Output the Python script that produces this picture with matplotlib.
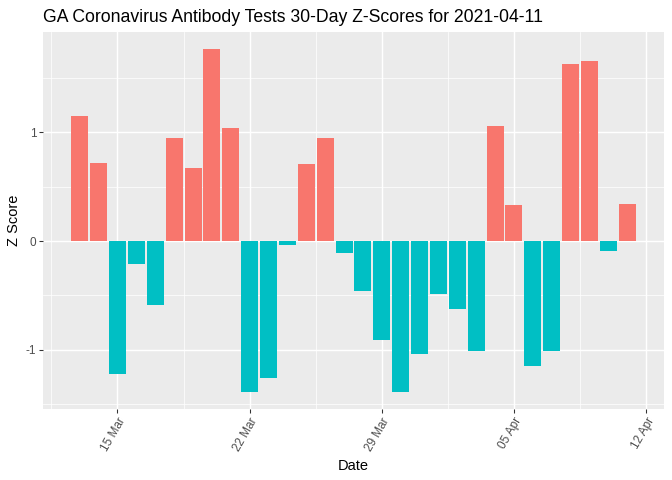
import numpy as np
import pandas as pd
import matplotlib
matplotlib.use("Agg")
import matplotlib.pyplot as plt
import matplotlib.dates as mdates
from matplotlib.ticker import MultipleLocator, FixedLocator

plt.rcParams['font.family'] = ['Liberation Sans', 'DejaVu Sans']

# 30-day window ending 2021-04-11
dates = pd.date_range("2021-03-13", "2021-04-11", freq="D")
z_scores = [1.150, 0.718, -1.221, -0.212, -0.589, 0.948, 0.672, 1.767, 1.040, -1.387,
            -1.258, -0.037, 0.709, 0.948, -0.107, -0.457, -0.908, -1.387, -1.037, -0.485,
            -0.623, -1.009, 1.058, 0.331, -1.147, -1.009, 1.629, 1.656, -0.089, 0.340]
tick_dates = pd.date_range("2021-03-15", "2021-04-12", freq="7D")
title = "GA Coronavirus Antibody Tests 30-Day Z-Scores for 2021-04-11"

pos_col = "#F8766D"
neg_col = "#00BFC4"
colors = [pos_col if z > 0 else neg_col for z in z_scores]

fig = plt.figure(figsize=(7, 5), dpi=96)
ax = fig.add_axes([43 / 672, 1 - 409 / 480, 621 / 672, 377 / 480])
ax.set_facecolor("#EBEBEB")

x = mdates.date2num(dates)
ax.bar(x, z_scores, width=0.9, color=colors, zorder=3)

# limits like ggplot expansion (5%)
lo, hi = x.min() - 0.45, x.max() + 0.45
pad = (hi - lo) * 0.05
ax.set_xlim(lo - pad, hi + pad)
ymin, ymax = min(z_scores), max(z_scores)
ypad = (ymax - ymin) * 0.05
ax.set_ylim(ymin - ypad, ymax + ypad)

major_x = mdates.date2num(tick_dates)
minor_x = np.concatenate([[major_x[0] - 3.5], (major_x[:-1] + major_x[1:]) / 2])
ax.xaxis.set_major_locator(FixedLocator(major_x))
ax.xaxis.set_major_formatter(mdates.DateFormatter("%d %b"))
ax.xaxis.set_minor_locator(FixedLocator(minor_x))
ax.yaxis.set_major_locator(MultipleLocator(1))
ax.yaxis.set_minor_locator(MultipleLocator(0.5))
ax.yaxis.set_major_formatter(matplotlib.ticker.FuncFormatter(lambda v, p: "%d" % v))

ax.grid(which="major", color="white", linewidth=1.1, zorder=0)
ax.grid(which="minor", color="white", linewidth=0.55, zorder=0)
ax.set_axisbelow(True)
for s in ax.spines.values():
    s.set_visible(False)

ax.tick_params(which="major", length=3, width=0.8, color="#333333",
               labelsize=8.8, labelcolor="#4D4D4D", pad=2)
ax.tick_params(which="minor", length=0)
plt.setp(ax.get_xticklabels(), rotation=60, ha="right", rotation_mode="anchor")

ax.set_xlabel("Date", fontsize=11, labelpad=4)
ax.set_ylabel("Z Score", fontsize=11, labelpad=4)
fig.text(43 / 672, 1 - 22 / 480, title, fontsize=13.2, ha="left", va="baseline")

fig.savefig("out.png", dpi=96)
